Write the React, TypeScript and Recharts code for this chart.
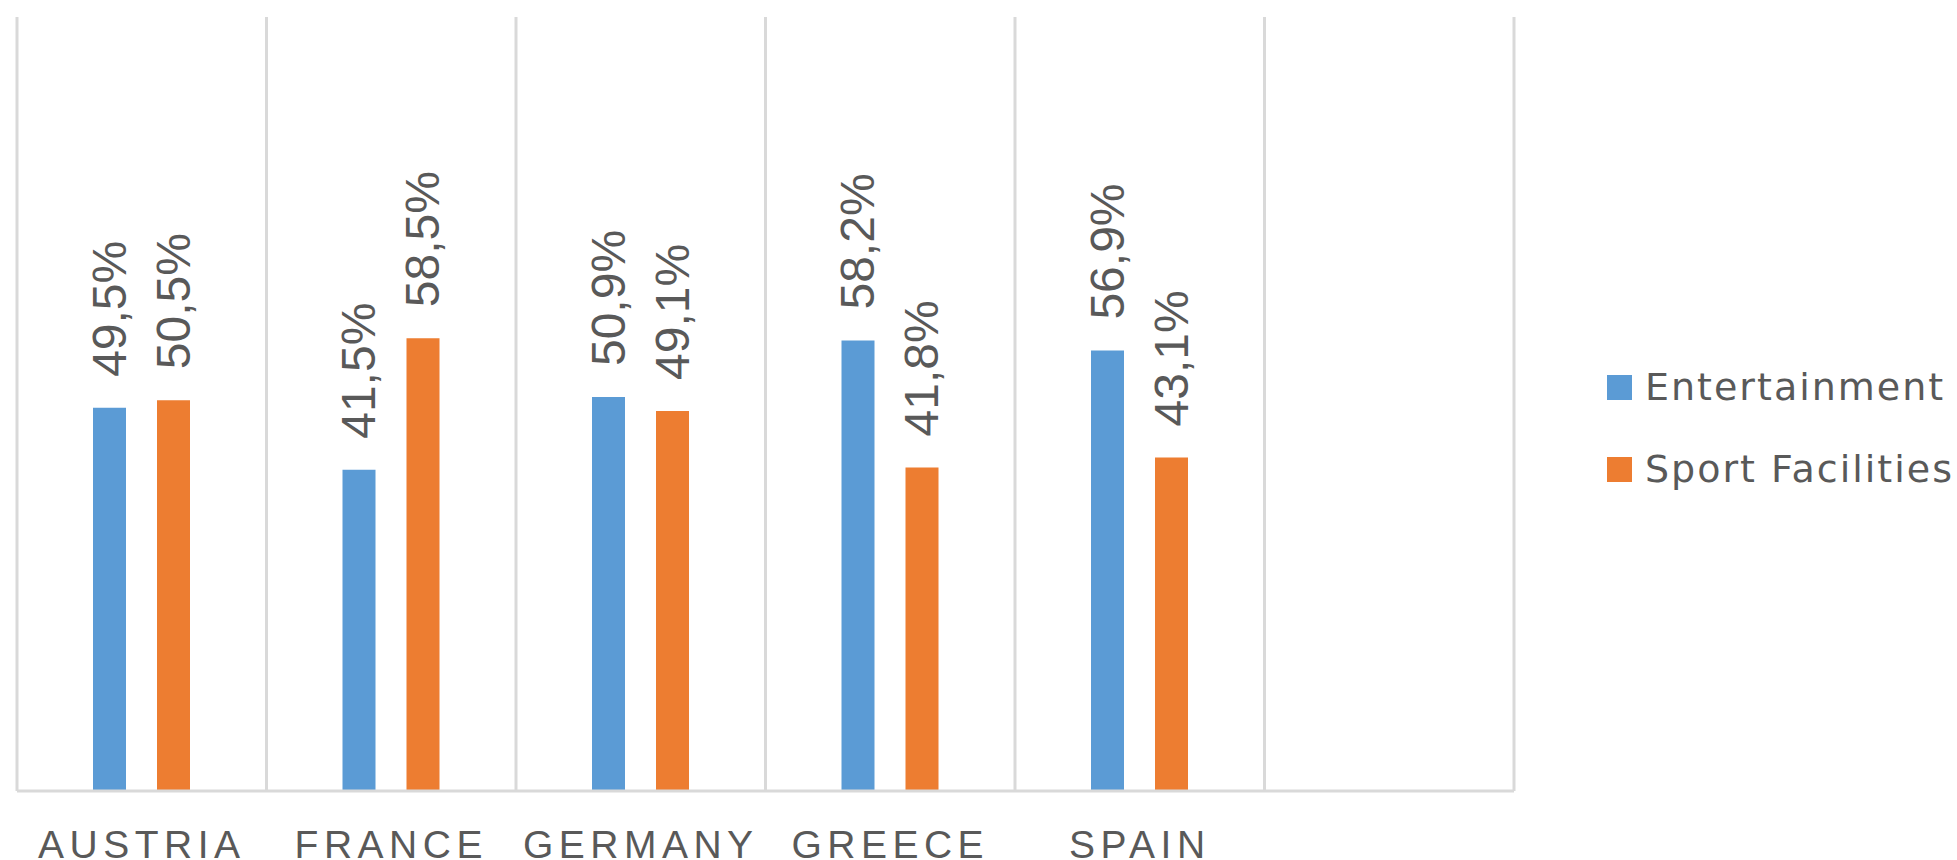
import React from "react";
import { BarChart, Bar, XAxis, YAxis, CartesianGrid, Legend, LabelList } from "recharts";

// categories (last one is an empty slot, as in the original sheet)
const countries = ["AUSTRIA", "FRANCE", "GERMANY", "GREECE", "SPAIN", ""];
const entertainment = [49.5, 41.5, 50.9, 58.2, 56.9, null];
const sportFacilities = [50.5, 58.5, 49.1, 41.8, 43.1, null];

const COLORS = {
  entertainment: "#5B9BD5",
  sport: "#ED7D31",
  grid: "#D9D9D9",
  text: "#595959",
};

const data = countries.map((name, i) => ({
  name,
  entertainment: entertainment[i],
  sport: sportFacilities[i],
}));

const fmt = (v: number) => `${v.toFixed(1).replace(".", ",")}%`;

// rotated value label sitting above each bar
const renderValueLabel = (props: any) => {
  const { x, y, width, value } = props;
  if (value === null || value === undefined) return null;
  const cx = Number(x) + Number(width) / 2;
  const ty = Number(y) - 31;
  return (
    <text
      x={cx}
      y={ty}
      transform={`rotate(-90 ${cx} ${ty})`}
      fill={COLORS.text}
      fontSize={48}
      fontFamily="Liberation Sans, Arial, sans-serif"
      textAnchor="start"
      dominantBaseline="central"
    >
      {fmt(Number(value))}
    </text>
  );
};

const CountryTick = (props: any) => {
  const { x, y, payload } = props;
  return (
    <text
      x={x}
      y={y}
      dy={59}
      textAnchor="middle"
      fill={COLORS.text}
      fontSize={39}
      letterSpacing={5.5}
      fontFamily="Liberation Sans, Arial, sans-serif"
    >
      {payload.value}
    </text>
  );
};

const LegendBox = (props: any) => {
  const { payload } = props;
  return (
    <div style={{ fontFamily: "DejaVu Sans, sans-serif" }}>
      {(payload || []).map((entry: any, i: number) => (
        <div
          key={`item-${i}`}
          style={{ display: "flex", alignItems: "center", height: 82, whiteSpace: "nowrap" }}
        >
          <span
            style={{
              display: "inline-block",
              width: 25,
              height: 25,
              background: entry.color,
              marginRight: 13,
            }}
          />
          <span style={{ fontSize: 38, letterSpacing: 2, color: COLORS.text }}>{entry.value}</span>
        </div>
      ))}
    </div>
  );
};

export default function App() {
  return (
    <div
      style={{
        position: "absolute",
        left: 0,
        top: 0,
        width: 1957,
        height: 860,
        overflow: "hidden",
        background: "#fff",
      }}
    >
      <BarChart
        width={1957}
        height={860}
        data={data}
        margin={{ top: 17, right: 443, left: 17, bottom: 0 }}
        barGap={31}
      >
        <CartesianGrid
          horizontal={false}
          stroke={COLORS.grid}
          strokeWidth={3}
          verticalCoordinatesGenerator={({ offset }: any) =>
            countries.map((_, i) => offset.left + (i * offset.width) / countries.length).concat(
              offset.left + offset.width
            )
          }
        />
        <XAxis
          dataKey="name"
          height={69}
          interval={0}
          tickLine={false}
          axisLine={{ stroke: COLORS.grid, strokeWidth: 3 }}
          tick={<CountryTick />}
        />
        <YAxis hide domain={[0, 100]} />
        <Legend
          layout="vertical"
          align="center"
          verticalAlign="middle"
          wrapperStyle={{ left: 1607, top: 346, width: 360 }}
          content={<LegendBox />}
        />
        <Bar
          dataKey="entertainment"
          name="Entertainment"
          fill={COLORS.entertainment}
          barSize={33}
          isAnimationActive={false}
        >
          <LabelList dataKey="entertainment" content={renderValueLabel} />
        </Bar>
        <Bar
          dataKey="sport"
          name="Sport Facilities"
          fill={COLORS.sport}
          barSize={33}
          isAnimationActive={false}
        >
          <LabelList dataKey="sport" content={renderValueLabel} />
        </Bar>
      </BarChart>
    </div>
  );
}
